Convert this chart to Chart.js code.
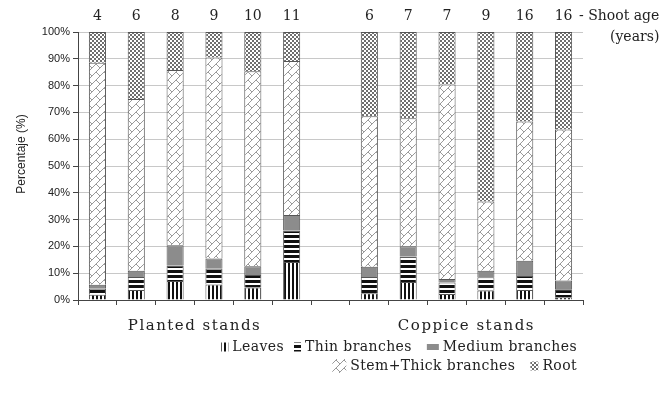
<!DOCTYPE html>
<html>
<head>
<meta charset="utf-8">
<script src="https://cdn.jsdelivr.net/npm/chart.js@4"></script>
<style>
  html, body { margin: 0; padding: 0; background: #fff; }
</style>
</head>
<body>
<canvas id="chart" width="665" height="403"></canvas>
<script>
// shoot age per stand, empty slot separates the two groups
const shootAge = ['4', '6', '8', '9', '10', '11', '', '6', '7', '7', '9', '16', '16'];
const stands = ['Planted stands', 'Coppice stands'];

// biomass fractions (%)
const leaves         = [2.0, 3.7, 7.1, 5.8, 4.7, 14.2, null, 2.5, 6.7, 2.2, 3.5, 3.7, 1.0];
const thinBranches   = [2.2, 4.9, 5.8, 5.9, 4.6, 11.7, null, 6.1, 9.5, 4.3, 5.0, 5.3, 3.0];
const mediumBranches = [1.5, 2.3, 7.5, 3.8, 3.3, 5.8, null, 3.8, 3.9, 1.3, 2.4, 5.6, 3.3];
const stemThick      = [82.8, 64.1, 65.4, 75.0, 72.8, 57.5, null, 56.2, 47.7, 72.6, 25.9, 52.0, 56.3];
const root           = [11.5, 25.0, 14.2, 9.5, 14.6, 10.8, null, 31.4, 32.2, 19.6, 63.2, 33.4, 36.4];

const yTicks = [0, 10, 20, 30, 40, 50, 60, 70, 80, 90, 100];

const canvas = document.getElementById('chart');
const ctx = canvas.getContext('2d');

function makePattern(w, h, draw) {
  const c = document.createElement('canvas');
  c.width = w; c.height = h;
  const g = c.getContext('2d');
  g.fillStyle = '#fff';
  g.fillRect(0, 0, w, h);
  draw(g);
  return ctx.createPattern(c, 'repeat');
}

const leavesFill = makePattern(4, 4, g => { g.fillStyle = '#111'; g.fillRect(0, 0, 2, 4); });
const thinFill = makePattern(4, 5, g => { g.fillStyle = '#111'; g.fillRect(0, 0, 4, 3); });
const mediumFill = '#8c8c8c';
const stemFill = makePattern(8, 8, g => {
  g.strokeStyle = '#9a9a9a';
  g.lineWidth = 1;
  g.beginPath();
  g.moveTo(0, 8); g.lineTo(8, 0);
  g.moveTo(0, 0); g.lineTo(4, 4);
  g.stroke();
});
const rootFill = makePattern(4, 4, g => {
  g.fillStyle = '#6e6e6e';
  g.fillRect(0, 0, 2, 2);
  g.fillRect(2, 2, 2, 2);
});

const serif = '"DejaVu Serif", serif';
const sans = '"Liberation Sans", Arial, sans-serif';

// axis title, group labels, shoot age note and the legend
const extras = {
  id: 'extras',
  afterDraw(chart) {
    const c = chart.ctx;
    const x = chart.scales.x;
    c.save();
    c.fillStyle = '#222';
    c.textBaseline = 'middle';

    c.save();
    c.translate(22, 154);
    c.rotate(-Math.PI / 2);
    c.textAlign = 'center';
    c.font = '12px ' + sans;
    c.fillText('Percentaje (%)', 0, 0);
    c.restore();

    c.font = '14px ' + serif;
    c.textAlign = 'left';
    c.fillText('- Shoot age', 579, 16);
    c.fillText('(years)', 610, 37);

    c.font = '15px ' + serif;
    c.letterSpacing = '1.5px';
    c.textAlign = 'center';
    const p = (x.getPixelForValue(2) + x.getPixelForValue(3)) / 2;
    const q = (x.getPixelForValue(9) + x.getPixelForValue(10)) / 2;
    c.fillText(stands[0], p, 326);
    c.fillText(stands[1], q, 326);

    // legend, two rows aligned right
    c.font = '14px ' + serif;
    c.letterSpacing = '0.4px';
    const ds = chart.data.datasets;
    const sw = [[7, 9], [7, 9], [12, 6], [14, 14], [8, 9]];
    const gap = [10, 15, 0, 15, 0];
    const rows = [[0, 1, 2], [3, 4]];
    const rowY = [347, 366];
    const right = 577;
    c.textAlign = 'left';
    rows.forEach((row, r) => {
      let total = 0;
      row.forEach((i, k) => {
        total += sw[i][0] + 4 + c.measureText(ds[i].label).width + (k < row.length - 1 ? gap[i] : 0);
      });
      let cx = right - total;
      row.forEach(i => {
        const [w, h] = sw[i];
        c.fillStyle = ds[i].backgroundColor;
        c.fillRect(cx, rowY[r] - h / 2, w, h);
        cx += w + 4;
        c.fillStyle = '#222';
        c.fillText(ds[i].label, cx, rowY[r]);
        cx += c.measureText(ds[i].label).width + gap[i];
      });
    });
    c.restore();
  }
};

const seg = (label, data, fill) => ({
  label: label,
  data: data,
  backgroundColor: fill,
  borderColor: '#555',
  borderWidth: 1,
  barPercentage: 0.44,
  categoryPercentage: 1
});

new Chart(ctx, {
  type: 'bar',
  data: {
    labels: shootAge,
    datasets: [
      seg('Leaves', leaves, leavesFill),
      seg('Thin branches', thinBranches, thinFill),
      seg('Medium branches', mediumBranches, mediumFill),
      seg('Stem+Thick branches', stemThick, stemFill),
      seg('Root', root, rootFill)
    ]
  },
  options: {
    responsive: false,
    animation: false,
    layout: { padding: { left: 0, top: 8, right: 82, bottom: 98 } },
    plugins: {
      legend: { display: false },
      tooltip: { enabled: false }
    },
    scales: {
      x: {
        stacked: true,
        ticks: { display: false },
        grid: { drawOnChartArea: false, tickLength: 5, tickColor: '#444' },
        border: { color: '#444' }
      },
      xTop: {
        type: 'category',
        position: 'top',
        labels: shootAge,
        offset: true,
        grid: { display: false, drawTicks: false },
        border: { display: false },
        afterFit: s => { s.height = 24; },
        ticks: { padding: 7, color: '#222', font: { family: serif, size: 14 }, maxRotation: 0, autoSkip: false }
      },
      y: {
        stacked: true,
        min: 0,
        max: 100,
        afterBuildTicks: s => { s.ticks = yTicks.map(v => ({ value: v })); },
        afterFit: s => { s.width = 78; },
        ticks: {
          padding: 3,
          color: '#222',
          font: { family: sans, size: 11 },
          callback: v => v + '%'
        },
        grid: { color: '#c8c8c8', tickLength: 5, tickColor: '#444' },
        border: { color: '#444' }
      }
    }
  },
  plugins: [extras]
});
</script>
</body>
</html>
